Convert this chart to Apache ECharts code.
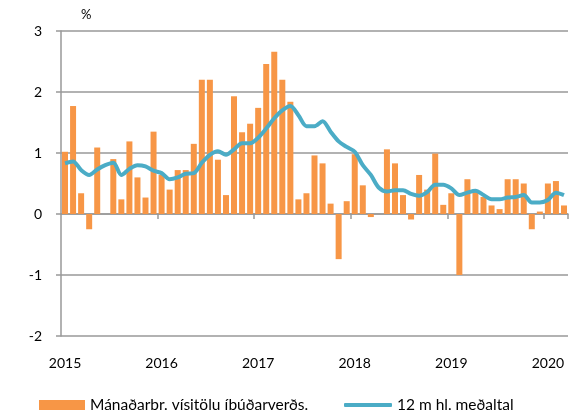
<!DOCTYPE html>
<html>
<head>
<meta charset="utf-8">
<script src="https://cdn.jsdelivr.net/npm/echarts@6/dist/echarts.min.js"></script>
<style>
  html, body { margin: 0; padding: 0; background: #fff; }
  #chart { width: 585px; height: 412px; }
</style>
</head>
<body>
<div id="chart"></div>
<script>
// months Jan 2015 - Mar 2020
const years = ['2015', '2016', '2017', '2018', '2019', '2020'];
const months = [];
years.forEach(function (y) {
  for (let m = 1; m <= 12; m++) {
    if (y === '2020' && m > 3) break;
    months.push(y + '-' + (m < 10 ? '0' + m : m));
  }
});

// monthly change, %
const monthlyChange = [
  1.02, 1.77, 0.34, -0.25, 1.09, 0.0, 0.90, 0.24, 1.19, 0.60, 0.27, 1.35,
  0.64, 0.40, 0.72, 0.72, 1.15, 2.20, 2.20, 0.89, 0.31, 1.93, 1.34, 1.48,
  1.74, 2.46, 2.66, 2.20, 1.84, 0.24, 0.34, 0.96, 0.83, 0.17, -0.74, 0.21,
  0.98, 0.47, -0.05, 0.0, 1.06, 0.83, 0.31, -0.09, 0.64, 0.40, 0.99, 0.15,
  0.34, -1.00, 0.57, 0.37, 0.28, 0.14, 0.08, 0.57, 0.57, 0.50, -0.25, 0.04,
  0.50, 0.54, 0.14
];

// 12 month moving average, %
const avg12 = [
  0.83, 0.86, 0.72, 0.64, 0.73, 0.80, 0.84, 0.64, 0.74, 0.80, 0.78, 0.71,
  0.67, 0.57, 0.60, 0.66, 0.67, 0.84, 0.97, 1.03, 0.97, 1.06, 1.16, 1.16,
  1.25, 1.40, 1.57, 1.70, 1.77, 1.62, 1.44, 1.44, 1.52, 1.35, 1.19, 1.10,
  1.02, 0.80, 0.64, 0.43, 0.37, 0.39, 0.39, 0.33, 0.30, 0.36, 0.48, 0.48,
  0.42, 0.31, 0.35, 0.38, 0.31, 0.24, 0.24, 0.27, 0.28, 0.31, 0.19, 0.19,
  0.23, 0.35, 0.31
];

const yTicks = [-2, -1, 0, 1, 2, 3];

const barName = 'Mánaðarbr. vísitölu íbúðarverðs.';
const lineName = '12 m hl. meðaltal';

const font = 'Lato';
const gridColor = '#999999';

const chart = echarts.init(document.getElementById('chart'), null, { renderer: 'canvas' });

const option = {
  animation: false,
  backgroundColor: '#fff',
  textStyle: { fontFamily: font },
  grid: { left: 61, right: 17, top: 31, bottom: 76, containLabel: false },
  graphic: [
    {
      type: 'text',
      left: 81,
      top: 8,
      style: { text: '%', fontSize: 13, fontFamily: font, fill: '#000' },
    },
  ],
  legend: [
    {
      left: 34,
      top: 392,
      itemWidth: 46,
      itemHeight: 10,
      itemGap: 6,
      textStyle: { fontSize: 15.5, color: '#000', fontFamily: font },
      data: [{ name: barName, icon: 'rect' }],
    },
    {
      left: 339,
      top: 392,
      itemWidth: 48,
      itemHeight: 4,
      textStyle: { fontSize: 15.5, color: '#000', fontFamily: font },
      data: [{ name: lineName, icon: 'roundRect' }],
    },
  ],
  xAxis: [
    {
      type: 'category',
      data: months,
      position: 'bottom',
      boundaryGap: true,
      axisLine: { onZero: true, lineStyle: { color: gridColor, width: 1.5 } },
      axisTick: {
        show: true,
        length: 5,
        lineStyle: { color: gridColor, width: 1.5 },
        interval: function (i) { return i > 0 && i % 12 === 0; },
      },
      axisLabel: { show: false },
      splitLine: { show: false },
    },
    {
      type: 'category',
      data: months,
      position: 'bottom',
      boundaryGap: true,
      axisLine: { show: false, onZero: false },
      axisTick: { show: false },
      axisLabel: {
        show: true,
        margin: 20,
        fontSize: 14,
        color: '#000',
        fontFamily: font,
        interval: function (i) { return i % 12 === 0; },
        formatter: function (v) { return v.slice(0, 4); },
      },
      splitLine: { show: false },
    },
  ],
  yAxis: {
    type: 'value',
    min: yTicks[0],
    max: yTicks[yTicks.length - 1],
    interval: 1,
    axisLine: { show: true, lineStyle: { color: gridColor, width: 1.5 } },
    axisTick: { show: true, length: 5, lineStyle: { color: gridColor, width: 1.5 } },
    axisLabel: { margin: 19, fontSize: 14, color: '#000', fontFamily: font },
    splitLine: { show: true, lineStyle: { color: gridColor, width: 1.5 } },
  },
  series: [
    {
      name: barName,
      type: 'bar',
      xAxisIndex: 0,
      data: monthlyChange,
      barWidth: 6,
      itemStyle: { color: '#f79646' },
    },
    {
      name: lineName,
      type: 'line',
      xAxisIndex: 0,
      data: avg12,
      smooth: 0.3,
      symbol: 'none',
      lineStyle: { color: '#4bacc6', width: 4 },
      itemStyle: { color: '#4bacc6' },
    },
  ],
};

chart.setOption(option);
</script>
</body>
</html>
